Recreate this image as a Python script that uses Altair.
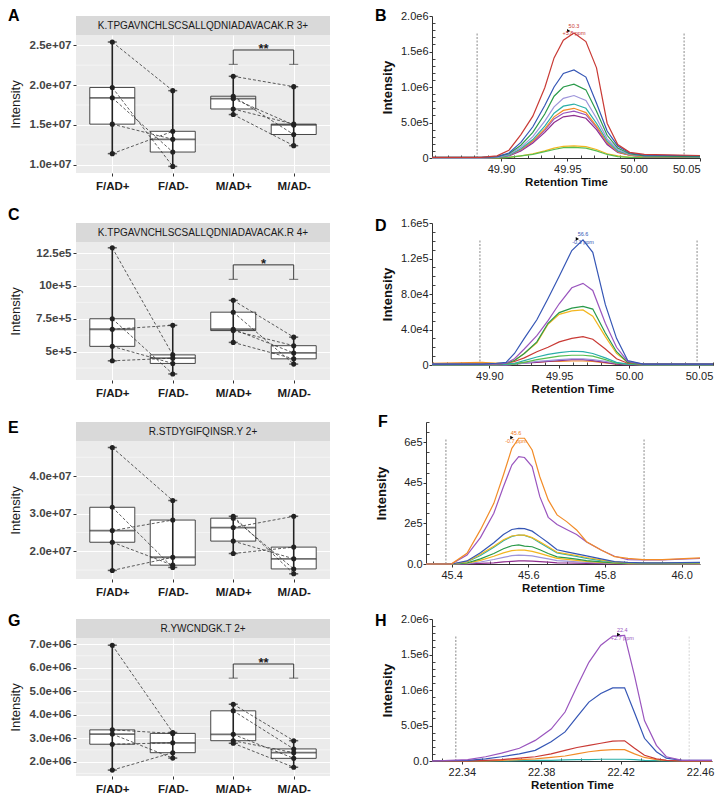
import altair as alt
import numpy as np
import pandas as pd

FONT = "Liberation Sans"
GROUPS = ["F/AD+", "F/AD-", "M/AD+", "M/AD-"]
LEFT_W, LEFT_H, STRIP_H = 254, 138, 19
RIGHT_H = 142
MINOR_TICK = 3

# ---------------- Panel A ----------------
A_TITLE = "K.TPGAVNCHLSCSALLQDNIADAVACAK.R 3+"
A_F_POS = [25.4e6, 19.7e6, 18.4e6, 15.1e6, 11.4e6]
A_F_NEG = [19.3e6, 9.8e6, 11.6e6, 13.2e6, 14.2e6]
A_M_POS = [21.1e6, 18.6e6, 18.3e6, 17.0e6, 16.3e6]
A_M_NEG = [19.8e6, 13.8e6, 15.0e6, 15.1e6, 12.4e6]
A_DOMAIN = [8.97e6, 26.28e6]
A_TICKS = [1.0e7, 1.5e7, 2.0e7, 2.5e7]
A_TICK_LABELS = ["1.0e+07", "1.5e+07", "2.0e+07", "2.5e+07"]
A_MINOR = [1.25e7, 1.75e7, 2.25e7]
A_BRACKET = [22.6e6, 24.4e6]
A_STARS = "**"

# ---------------- Panel C ----------------
C_TITLE = "K.TPGAVNCHLSCSALLQDNIADAVACAK.R 4+"
C_F_POS = [12.9e5, 7.5e5, 6.7e5, 5.4e5, 4.3e5]
C_F_NEG = [4.75e5, 3.3e5, 7.0e5, 4.1e5, 4.5e5]
C_M_POS = [8.9e5, 8.0e5, 6.7e5, 6.6e5, 5.7e5]
C_M_NEG = [6.1e5, 4.05e5, 4.9e5, 5.45e5, 4.45e5]
C_DOMAIN = [2.84e5, 13.34e5]
C_TICKS = [5.0e5, 7.5e5, 10.0e5, 12.5e5]
C_TICK_LABELS = ["5e+5", "7.5e+5", "10e+5", "12.5e5"]
C_MINOR = [3.75e5, 6.25e5, 8.75e5, 11.25e5]
C_BRACKET = [10.5e5, 11.6e5]
C_STARS = "*"

# ---------------- Panel E ----------------
E_TITLE = "R.STDYGIFQINSR.Y 2+"
E_F_POS = [4.76e7, 3.17e7, 2.55e7, 2.24e7, 1.49e7]
E_F_NEG = [3.35e7, 1.57e7, 2.83e7, 1.63e7, 1.84e7]
E_M_POS = [2.93e7, 2.88e7, 2.63e7, 2.27e7, 1.94e7]
E_M_NEG = [1.40e7, 1.53e7, 2.93e7, 1.80e7, 2.11e7]
E_DOMAIN = [1.262e7, 4.933e7]
E_TICKS = [2.0e7, 3.0e7, 4.0e7]
E_TICK_LABELS = ["2.0e+07", "3.0e+07", "4.0e+07"]
E_MINOR = [1.5e7, 2.5e7, 3.5e7, 4.5e7]

# ---------------- Panel G ----------------
G_TITLE = "R.YWCNDGK.T 2+"
G_F_POS = [6.95e6, 3.35e6, 3.17e6, 2.74e6, 1.64e6]
G_F_NEG = [3.24e6, 3.20e6, 2.15e6, 2.80e6, 2.38e6]
G_M_POS = [4.44e6, 4.16e6, 3.16e6, 2.89e6, 2.78e6]
G_M_NEG = [2.89e6, 2.54e6, 2.14e6, 2.38e6, 1.76e6]
G_DOMAIN = [1.389e6, 7.256e6]
G_TICKS = [2.0e6, 3.0e6, 4.0e6, 5.0e6, 6.0e6, 7.0e6]
G_TICK_LABELS = ["2.0e+06", "3.0e+06", "4.0e+06", "5.0e+06", "6.0e+06", "7.0e+06"]
G_MINOR = [1.5e6, 2.5e6, 3.5e6, 4.5e6, 5.5e6, 6.5e6]
G_BRACKET = [5.55e6, 6.15e6]
G_STARS = "**"

# ---------------- Panel B (intensity in 1e6) ----------------
B_TIMES = [49.848, 49.885, 49.897, 49.906, 49.915, 49.924, 49.933, 49.940, 49.947,
           49.955, 49.964, 49.972, 49.980, 49.988, 49.997, 50.008, 50.05]
B_RED = [0.01, 0.01, 0.03, 0.11, 0.33, 0.59, 0.99, 1.41, 1.66, 1.76, 1.64, 1.27, 0.49, 0.19, 0.08, 0.05, 0.035]
B_BLUE = [0.01, 0.01, 0.02, 0.07, 0.22, 0.44, 0.74, 1.00, 1.19, 1.24, 1.14, 0.77, 0.38, 0.17, 0.07, 0.04, 0.03]
B_GREEN = [0.01, 0.01, 0.02, 0.06, 0.18, 0.36, 0.62, 0.87, 1.00, 1.04, 0.96, 0.66, 0.32, 0.14, 0.06, 0.03, 0.02]
B_LAVENDER = [0.0, 0.0, 0.01, 0.05, 0.15, 0.30, 0.52, 0.72, 0.84, 0.88, 0.81, 0.56, 0.27, 0.12, 0.05, 0.03, 0.02]
B_TEAL = [0.0, 0.0, 0.01, 0.04, 0.13, 0.26, 0.45, 0.63, 0.73, 0.76, 0.70, 0.49, 0.24, 0.10, 0.05, 0.03, 0.02]
B_ORANGE = [0.0, 0.0, 0.01, 0.04, 0.12, 0.24, 0.41, 0.58, 0.67, 0.70, 0.64, 0.45, 0.22, 0.09, 0.04, 0.02, 0.02]
B_PURPLE = [0.0, 0.0, 0.01, 0.04, 0.11, 0.23, 0.39, 0.55, 0.63, 0.66, 0.61, 0.43, 0.21, 0.09, 0.04, 0.02, 0.02]
B_MAGENTA = [0.0, 0.0, 0.01, 0.03, 0.10, 0.21, 0.36, 0.50, 0.58, 0.60, 0.56, 0.40, 0.19, 0.08, 0.04, 0.02, 0.02]
B_GOLD = [0.0, 0.0, 0.0, 0.01, 0.03, 0.06, 0.10, 0.14, 0.165, 0.17, 0.16, 0.12, 0.06, 0.03, 0.01, 0.01, 0.01]
B_LTGREEN = [0.0, 0.0, 0.0, 0.01, 0.03, 0.05, 0.09, 0.12, 0.145, 0.15, 0.14, 0.10, 0.05, 0.02, 0.01, 0.01, 0.01]
B_NAMES = ["gold", "ltgreen", "magenta", "purple", "orange", "teal", "lavender", "green", "blue", "red"]
B_COLORS = ["#F3B61F", "#58BE4F", "#8E2C8E", "#9A55BE", "#F28C28", "#2AAFA8", "#9D94DA", "#2A9A4A", "#3556B5", "#C93A35"]
B_SERIES = [B_GOLD, B_LTGREEN, B_MAGENTA, B_PURPLE, B_ORANGE, B_TEAL, B_LAVENDER, B_GREEN, B_BLUE, B_RED]
B_BOUNDS = [49.882, 50.038]
B_BOUND_TOP = 1.765

# ---------------- Panel D (intensity in 1e5) ----------------
D_TIMES = [49.859, 49.895, 49.905, 49.912, 49.918, 49.925, 49.934, 49.942, 49.950,
           49.959, 49.967, 49.974, 49.983, 49.991, 49.999, 50.010, 50.06]
D_BLUE = [0.01, 0.01, 0.02, 0.03, 0.13, 0.30, 0.51, 0.75, 1.00, 1.29, 1.41, 1.27, 0.68, 0.30, 0.05, 0.01, 0.01]
D_PURPLE = [0.01, 0.01, 0.01, 0.02, 0.07, 0.18, 0.33, 0.50, 0.69, 0.87, 0.92, 0.84, 0.47, 0.20, 0.04, 0.01, 0.01]
D_GREEN = [0.01, 0.01, 0.01, 0.02, 0.05, 0.13, 0.26, 0.47, 0.59, 0.64, 0.66, 0.63, 0.36, 0.15, 0.03, 0.01, 0.01]
D_GOLD = [0.01, 0.02, 0.02, 0.02, 0.05, 0.13, 0.25, 0.46, 0.57, 0.61, 0.62, 0.55, 0.32, 0.13, 0.03, 0.01, 0.01]
D_RED = [0.01, 0.01, 0.01, 0.02, 0.04, 0.08, 0.15, 0.20, 0.26, 0.30, 0.32, 0.29, 0.18, 0.07, 0.02, 0.01, 0.01]
D_TEAL = [0.01, 0.01, 0.01, 0.01, 0.02, 0.05, 0.09, 0.12, 0.14, 0.155, 0.15, 0.13, 0.08, 0.03, 0.01, 0.01, 0.01]
D_LTGREEN = [0.0, 0.0, 0.0, 0.01, 0.01, 0.03, 0.06, 0.08, 0.10, 0.11, 0.11, 0.10, 0.06, 0.02, 0.01, 0.0, 0.0]
D_LAVENDER = [0.0, 0.0, 0.0, 0.0, 0.01, 0.02, 0.04, 0.05, 0.06, 0.07, 0.07, 0.06, 0.04, 0.02, 0.01, 0.0, 0.0]
D_MAGENTA = [0.0, 0.0, 0.0, 0.0, 0.01, 0.02, 0.03, 0.04, 0.05, 0.06, 0.06, 0.05, 0.03, 0.01, 0.0, 0.0, 0.0]
D_ORANGE = [0.02, 0.03, 0.02, 0.02, 0.02, 0.03, 0.03, 0.04, 0.04, 0.045, 0.045, 0.04, 0.025, 0.01, 0.01, 0.01, 0.01]
D_NAMES = ["orange", "magenta", "lavender", "ltgreen", "teal", "red", "gold", "green", "purple", "blue"]
D_COLORS = ["#F07A22", "#B03AA8", "#9D94DA", "#58BE4F", "#2AAFA8", "#C93A35", "#F5A623", "#2A9A4A", "#9A55BE", "#3556B5"]
D_SERIES = [D_ORANGE, D_MAGENTA, D_LAVENDER, D_LTGREEN, D_TEAL, D_RED, D_GOLD, D_GREEN, D_PURPLE, D_BLUE]
D_BOUNDS = [49.8933, 50.0486]
D_BOUND_TOP = 1.41

# ---------------- Panel F (intensity in 1e5) ----------------
F_TIMES = [45.333, 45.40, 45.44, 45.475, 45.51, 45.535, 45.557, 45.575, 45.59, 45.61, 45.63,
           45.652, 45.675, 45.70, 45.726, 45.752, 45.79, 45.825, 45.86, 45.90, 45.95, 46.048]
F_ORANGE = [0.0, 0.01, 0.53, 1.68, 2.99, 4.39, 5.70, 6.20, 6.20, 5.62, 4.30, 3.16, 2.42, 2.09, 1.68, 1.10, 0.69, 0.36, 0.28, 0.22, 0.22, 0.30]
F_PURPLE = [0.0, 0.01, 0.44, 1.30, 2.50, 3.81, 4.88, 5.29, 5.25, 4.80, 3.32, 2.30, 1.95, 1.70, 1.45, 1.08, 0.69, 0.38, 0.22, 0.20, 0.20, 0.27]
F_BLUE = [0.0, 0.0, 0.15, 0.55, 1.05, 1.45, 1.70, 1.76, 1.74, 1.62, 1.35, 1.05, 0.70, 0.60, 0.50, 0.40, 0.25, 0.12, 0.08, 0.06, 0.06, 0.08]
F_DARKRED = [0.0, 0.0, 0.12, 0.48, 0.88, 1.20, 1.38, 1.43, 1.42, 1.30, 1.10, 0.85, 0.58, 0.50, 0.42, 0.32, 0.20, 0.10, 0.06, 0.05, 0.05, 0.06]
F_TEAL = [0.0, 0.0, 0.10, 0.42, 0.82, 1.15, 1.36, 1.43, 1.41, 1.28, 1.05, 0.80, 0.55, 0.46, 0.38, 0.28, 0.17, 0.09, 0.05, 0.04, 0.04, 0.05]
F_GREEN = [0.0, 0.0, 0.05, 0.25, 0.52, 0.75, 0.90, 0.94, 0.88, 0.85, 0.70, 0.52, 0.35, 0.30, 0.24, 0.17, 0.10, 0.05, 0.03, 0.02, 0.02, 0.03]
F_GOLD = [0.0, 0.0, 0.04, 0.18, 0.38, 0.55, 0.66, 0.69, 0.68, 0.62, 0.52, 0.40, 0.28, 0.23, 0.18, 0.13, 0.08, 0.04, 0.02, 0.02, 0.02, 0.02]
F_LAVENDER = [0.0, 0.0, 0.02, 0.10, 0.22, 0.33, 0.41, 0.44, 0.43, 0.40, 0.33, 0.25, 0.17, 0.14, 0.11, 0.08, 0.05, 0.03, 0.02, 0.01, 0.01, 0.01]
F_MAGENTA = [0.0, 0.0, 0.01, 0.03, 0.06, 0.10, 0.13, 0.15, 0.15, 0.14, 0.12, 0.09, 0.06, 0.05, 0.04, 0.03, 0.02, 0.01, 0.01, 0.01, 0.01, 0.01]
F_NAMES = ["magenta", "lavender", "gold", "green", "teal", "darkred", "blue", "purple", "orange"]
F_COLORS = ["#B03AA8", "#9D94DA", "#F5B323", "#2A9A4A", "#2AAFA8", "#B03030", "#3556B5", "#9A55BE", "#F07A22"]
F_SERIES = [F_MAGENTA, F_LAVENDER, F_GOLD, F_GREEN, F_TEAL, F_DARKRED, F_BLUE, F_PURPLE, F_ORANGE]
F_BOUNDS = [45.385, 45.902]
F_BOUND_TOP = 6.2

# ---------------- Panel H (intensity in 1e6) ----------------
H_TIMES = [22.325, 22.343, 22.352, 22.360, 22.369, 22.377, 22.385, 22.392, 22.398, 22.404,
           22.410, 22.416, 22.422, 22.427, 22.432, 22.438, 22.443, 22.451, 22.466]
H_PURPLE = [0.0, 0.02, 0.06, 0.11, 0.18, 0.29, 0.45, 0.69, 1.05, 1.39, 1.63, 1.76, 1.77, 1.20, 0.57, 0.22, 0.06, 0.01, 0.01]
H_BLUE = [0.0, 0.01, 0.03, 0.06, 0.10, 0.15, 0.27, 0.41, 0.62, 0.83, 0.95, 1.03, 1.03, 0.68, 0.32, 0.13, 0.04, 0.01, 0.01]
H_RED = [0.0, 0.0, 0.01, 0.02, 0.04, 0.06, 0.10, 0.15, 0.19, 0.22, 0.25, 0.28, 0.285, 0.18, 0.08, 0.03, 0.01, 0.0, 0.0]
H_ORANGE = [0.0, 0.0, 0.0, 0.01, 0.02, 0.03, 0.05, 0.07, 0.10, 0.13, 0.15, 0.16, 0.16, 0.10, 0.05, 0.02, 0.01, 0.0, 0.0]
H_TEAL = [0.0, 0.0, 0.0, 0.0, 0.005, 0.01, 0.01, 0.015, 0.02, 0.02, 0.025, 0.025, 0.025, 0.02, 0.01, 0.005, 0.0, 0.0, 0.0]
H_NAMES = ["teal", "orange", "red", "blue", "purple"]
H_COLORS = ["#2AAFA8", "#F07A22", "#C93A35", "#3556B5", "#9A55BE"]
H_SERIES = [H_TEAL, H_ORANGE, H_RED, H_BLUE, H_PURPLE]
H_BOUNDS = [22.337, 22.4545]
H_BOUND_TOP = 1.77


def expr_in(vals, eps):
    return " || ".join(f"abs(datum.value - ({v!r})) < {eps}" for v in vals)


def expr_labels(vals, labels, eps):
    parts = [f"abs(datum.value - ({v!r})) < {eps} ? '{l}'" for v, l in zip(vals, labels)]
    return " : ".join(parts) + " : ''"


def left_panel(letter, ldx, ldy, title, fpos, fneg, mpos, mneg, domain, ticks, tlabels,
               minor, bracket=None, stars=None):
    arrays = [fpos, fneg, mpos, mneg]
    sexes = ["F", "F", "M", "M"]
    pts = pd.DataFrame([{"group": g, "value": v, "subject": f"{s}{i}"}
                        for g, arr, s in zip(GROUPS, arrays, sexes) for i, v in enumerate(arr)])
    stats = pd.DataFrame([{"group": g, "q1": float(np.percentile(a, 25)),
                           "med": float(np.percentile(a, 50)),
                           "q3": float(np.percentile(a, 75)),
                           "lo": min(a), "hi": max(a)} for g, a in zip(GROUPS, arrays)])
    caps = pd.DataFrame([{"group": g, "v": v} for g, a in zip(GROUPS, arrays)
                         for v in (min(a), max(a))])
    eps = abs(domain[1]) * 1e-6
    yaxis = alt.Axis(values=ticks, labelExpr=expr_labels(ticks, tlabels, eps), grid=True,
                     gridColor="white", gridWidth=1.1, domain=False, tickSize=3,
                     tickColor="#333333", labelFont=FONT, labelFontSize=11.5,
                     labelFontWeight="bold", labelColor="#444444", labelPadding=2,
                     labelOverlap=False, titleFont=FONT, titleFontSize=13,
                     titleFontWeight="normal", titleColor="#1a1a1a", titleX=-54,
                     titleAngle=270, titleBaseline="bottom")
    xaxis = alt.Axis(grid=True, gridColor="white", gridWidth=1.1, domain=False, tickSize=3,
                     tickColor="#333333", labelFont=FONT, labelFontSize=11.5,
                     labelFontWeight="bold", labelColor="#1a1a1a", labelPadding=4,
                     labelAngle=0)
    xscale = alt.Scale(type="point", domain=GROUPS, padding=0.6)
    yscale = alt.Scale(domain=domain, nice=False, zero=False)

    def X():
        return alt.X("group:N", scale=xscale, axis=xaxis, title=None)

    def Y(f):
        return alt.Y(f"{f}:Q", scale=yscale, axis=yaxis, title="Intensity")

    layers = [
        alt.Chart(pd.DataFrame({"v": minor})).mark_rule(color="white", strokeWidth=0.5)
        .encode(y=Y("v")),
        alt.Chart(stats).mark_bar(size=45, fill="white", stroke="#333333", strokeWidth=0.9)
        .encode(x=X(), y=Y("q1"), y2="q3"),
        alt.Chart(stats).mark_rule(color="#222222", strokeWidth=1.6)
        .encode(x=X(), y=Y("lo"), y2="hi"),
        alt.Chart(stats).mark_tick(size=45, thickness=1.8, color="#333333")
        .encode(x=X(), y=Y("med")),
        alt.Chart(caps).mark_tick(size=9, thickness=1.5, color="#222222")
        .encode(x=X(), y=Y("v")),
        alt.Chart(pts).mark_line(strokeDash=[3, 2], strokeWidth=0.8, color="#333333")
        .encode(x=X(), y=Y("value"), detail="subject:N"),
        alt.Chart(pts).mark_circle(size=26, color="#222222", opacity=1)
        .encode(x=X(), y=Y("value")),
    ]
    if bracket is not None:
        bdf = pd.DataFrame({"group": ["M/AD+", "M/AD+", "M/AD-", "M/AD-"],
                            "v": [bracket[0], bracket[1], bracket[1], bracket[0]],
                            "ord": [0, 1, 2, 3]})
        cdf = pd.DataFrame({"group": ["M/AD+", "M/AD-"], "v": [bracket[0], bracket[0]]})
        sdf = pd.DataFrame({"group": ["M/AD+"], "v": [bracket[1]], "s": [stars]})
        layers += [
            alt.Chart(bdf).mark_line(color="#333333", strokeWidth=1)
            .encode(x=X(), y=Y("v"), order="ord:Q"),
            alt.Chart(cdf).mark_tick(size=9, thickness=1, color="#333333")
            .encode(x=X(), y=Y("v")),
            alt.Chart(sdf).mark_text(dx=30.24, dy=3, baseline="alphabetic", font=FONT,
                                     fontSize=13, fontWeight="bold", color="#1a1a1a")
            .encode(x=X(), y=Y("v"), text="s:N"),
        ]
    plot = alt.layer(*layers).properties(width=LEFT_W, height=LEFT_H,
                                         view=alt.ViewBackground(fill="#EBEBEB"))

    sdf = pd.DataFrame({"label": [title], "letter": [letter]})
    sbase = alt.Chart(sdf)
    strip = alt.layer(
        sbase.mark_rect(fill="#D9D9D9").encode(
            x=alt.value(0), x2=alt.value(LEFT_W), y=alt.value(0), y2=alt.value(STRIP_H)),
        sbase.mark_text(font=FONT, fontSize=10, color="#1a1a1a", baseline="middle").encode(
            x=alt.value(LEFT_W / 2), y=alt.value(STRIP_H / 2 + 0.5), text="label:N"),
        sbase.mark_text(font=FONT, fontSize=16, fontWeight="bold", color="black",
                        align="left", baseline="top").encode(
            x=alt.value(ldx), y=alt.value(ldy), text="letter:N"),
    ).properties(width=LEFT_W, height=STRIP_H)
    return alt.vconcat(strip, plot, spacing=0, bounds="flush")


def right_panel(letter, ldx, ldy, width, times, names, colors, series, xdomain, xmaj, xlab,
                xminor, ydomain, ymaj, ylab, yminor, bounds, bound_top, bound_cols, ann):
    df = pd.DataFrame([{"t": t, "I": v, "trace": n}
                       for n, s in zip(names, series) for t, v in zip(times, s)])
    eps = 1e-6
    xvals = sorted(set(xmaj + xminor))
    yvals = sorted(set(ymaj + yminor))
    xmaj_test = expr_in(xmaj, eps)
    ymaj_test = expr_in(ymaj, eps)
    # major ticks point outward; minor ticks are short inward strokes (dashed grid).
    xaxis = alt.Axis(values=xvals, labelExpr=expr_labels(xmaj, xlab, eps),
                     tickSize={"condition": {"test": xmaj_test, "value": 3}, "value": 0},
                     grid=True, gridColor="#444444", gridWidth=1,
                     gridDash=[MINOR_TICK, RIGHT_H - MINOR_TICK], gridDashOffset=MINOR_TICK,
                     gridOpacity={"condition": {"test": xmaj_test, "value": 0}, "value": 1},
                     domainColor="#333333", tickColor="#333333", labelFont=FONT,
                     labelFontSize=11, labelColor="#222222", labelPadding=2, labelOverlap=False,
                     titleFont=FONT, titleFontSize=11.5, titleFontWeight="bold",
                     titleColor="#111111", titlePadding=2)
    yaxis = alt.Axis(values=yvals, labelExpr=expr_labels(ymaj, ylab, eps),
                     tickSize={"condition": {"test": ymaj_test, "value": 3}, "value": 0},
                     grid=True, gridColor="#444444", gridWidth=1, gridDash=[MINOR_TICK, 3000],
                     gridOpacity={"condition": {"test": ymaj_test, "value": 0}, "value": 1},
                     domainColor="#333333", tickColor="#333333", labelFont=FONT,
                     labelFontSize=11, labelColor="#222222", labelPadding=1, labelOverlap=False,
                     titleFont=FONT, titleFontSize=13, titleFontWeight="bold",
                     titleColor="#111111", titleX=-38, titleAngle=270, titleBaseline="bottom")
    xscale = alt.Scale(domain=xdomain, nice=False, zero=False)
    yscale = alt.Scale(domain=ydomain, nice=False, zero=False)

    def X(f):
        return alt.X(f"{f}:Q", scale=xscale, axis=xaxis, title="Retention Time")

    def Y(f):
        return alt.Y(f"{f}:Q", scale=yscale, axis=yaxis, title="Intensity")

    bdf = pd.DataFrame({"t": bounds, "y0": [0.0] * len(bounds), "y1": [bound_top] * len(bounds),
                        "c": bound_cols})
    adf = pd.DataFrame({"t": [ann["t"]], "I": [ann["I"]], "label": [ann["text"]]})
    tdf = pd.DataFrame({"t": [ann["tri_t"]], "I": [ann["tri_I"]]})
    ldf = pd.DataFrame({"letter": [letter]})
    layers = [
        alt.Chart(bdf).mark_rule(strokeDash=[2, 1.5], strokeWidth=1)
        .encode(x=X("t"), y=Y("y0"), y2="y1", color=alt.Color("c:N", scale=None)),
        alt.Chart(df).mark_line(strokeWidth=1.2)
        .encode(x=X("t"), y=Y("I"),
                color=alt.Color("trace:N", scale=alt.Scale(domain=names, range=colors),
                                legend=None)),
        alt.Chart(tdf).mark_point(shape="triangle-right", filled=True, size=14,
                                  color="black", opacity=1)
        .encode(x=X("t"), y=Y("I")),
        alt.Chart(adf).mark_text(font=FONT, fontSize=5.5, lineBreak="\n", color=ann["color"],
                                 baseline="bottom")
        .encode(x=X("t"), y=Y("I"), text="label:N"),
        alt.Chart(ldf).mark_text(font=FONT, fontSize=16, fontWeight="bold", color="black",
                                 align="left", baseline="top")
        .encode(x=alt.value(ldx), y=alt.value(ldy), text="letter:N"),
    ]
    return alt.layer(*layers).properties(width=width, height=RIGHT_H)


def rng(start, step, n, nd):
    return [round(start + step * i, nd) for i in range(n)]


panel_a = left_panel("A", -68, -8, A_TITLE, A_F_POS, A_F_NEG, A_M_POS, A_M_NEG, A_DOMAIN,
                     A_TICKS, A_TICK_LABELS, A_MINOR, A_BRACKET, A_STARS)
panel_c = left_panel("C", -68, -16, C_TITLE, C_F_POS, C_F_NEG, C_M_POS, C_M_NEG, C_DOMAIN,
                     C_TICKS, C_TICK_LABELS, C_MINOR, C_BRACKET, C_STARS)
panel_e = left_panel("E", -68, -2, E_TITLE, E_F_POS, E_F_NEG, E_M_POS, E_M_NEG, E_DOMAIN,
                     E_TICKS, E_TICK_LABELS, E_MINOR)
panel_g = left_panel("G", -68, -6, G_TITLE, G_F_POS, G_F_NEG, G_M_POS, G_M_NEG, G_DOMAIN,
                     G_TICKS, G_TICK_LABELS, G_MINOR, G_BRACKET, G_STARS)

panel_b = right_panel(
    "B", -57, -8, 268, B_TIMES, B_NAMES, B_COLORS, B_SERIES, [49.848, 50.05],
    [49.9, 49.95, 50.0, 50.05], ["49.90", "49.95", "50.00", "50.05"], rng(49.85, 0.01, 21, 2),
    [0, 2.0], [0.0, 0.5, 1.0, 1.5, 2.0], ["0", "5.0e5", "1.0e6", "1.5e6", "2.0e6"],
    rng(0, 0.1, 21, 1), B_BOUNDS, B_BOUND_TOP, ["#8a8a8a", "#8a8a8a"],
    {"t": 49.955, "I": 1.82, "text": "50.3\n+5.8 ppm", "color": "#C93A35",
     "tri_t": 49.951, "tri_I": 1.79})
panel_d = right_panel(
    "D", -57, -5, 281, D_TIMES, D_NAMES, D_COLORS, D_SERIES, [49.859, 50.06],
    [49.9, 49.95, 50.0, 50.05], ["49.90", "49.95", "50.00", "50.05"], rng(49.86, 0.01, 21, 2),
    [0, 1.6], [0.0, 0.4, 0.8, 1.2, 1.6], ["0", "4.0e4", "8.0e4", "1.2e5", "1.6e5"],
    rng(0, 0.1, 17, 1), D_BOUNDS, D_BOUND_TOP, ["#8a8a8a", "#8a8a8a"],
    {"t": 49.967, "I": 1.44, "text": "56.6\n-0.3 ppm", "color": "#3556B5",
     "tri_t": 49.963, "tri_I": 1.42})
panel_f = right_panel(
    "F", -48, -8, 274, F_TIMES, F_NAMES, F_COLORS, F_SERIES, [45.333, 46.048],
    [45.4, 45.6, 45.8, 46.0], ["45.4", "45.6", "45.8", "46.0"], rng(45.35, 0.05, 14, 2),
    [0, 7.0], [0.0, 2.0, 4.0, 6.0], ["0.0", "2e5", "4e5", "6e5"],
    rng(0, 0.5, 15, 1), F_BOUNDS, F_BOUND_TOP, ["#8a8a8a", "#8a8a8a"],
    {"t": 45.568, "I": 6.3, "text": "45.6\n-0.7 ppm", "color": "#F07A22",
     "tri_t": 45.557, "tri_I": 6.23})
panel_h = right_panel(
    "H", -57, -6, 280, H_TIMES, H_NAMES, H_COLORS, H_SERIES, [22.325, 22.466],
    [22.34, 22.38, 22.42, 22.46], ["22.34", "22.38", "22.42", "22.46"], rng(22.33, 0.01, 14, 2),
    [0, 2.0], [0.0, 0.5, 1.0, 1.5, 2.0], ["0.0", "5.0e5", "1.0e6", "1.5e6", "2.0e6"],
    rng(0, 0.1, 21, 1), H_BOUNDS, H_BOUND_TOP, ["#8a8a8a", "#d5d5d5"],
    {"t": 22.4208, "I": 1.80, "text": "22.4\n+2.7 ppm", "color": "#9A55BE",
     "tri_t": 22.419, "tri_I": 1.78})

rows = [alt.hconcat(l, r, spacing=44)
        for l, r in [(panel_a, panel_b), (panel_c, panel_d), (panel_e, panel_f), (panel_g, panel_h)]]

chart = (
    alt.vconcat(*rows, spacing=15)
    .properties(padding=0)
    .configure(font=FONT)
    .configure_view(stroke=None)
)

chart.save("out.html", embed_options={"renderer": "svg", "actions": False})
